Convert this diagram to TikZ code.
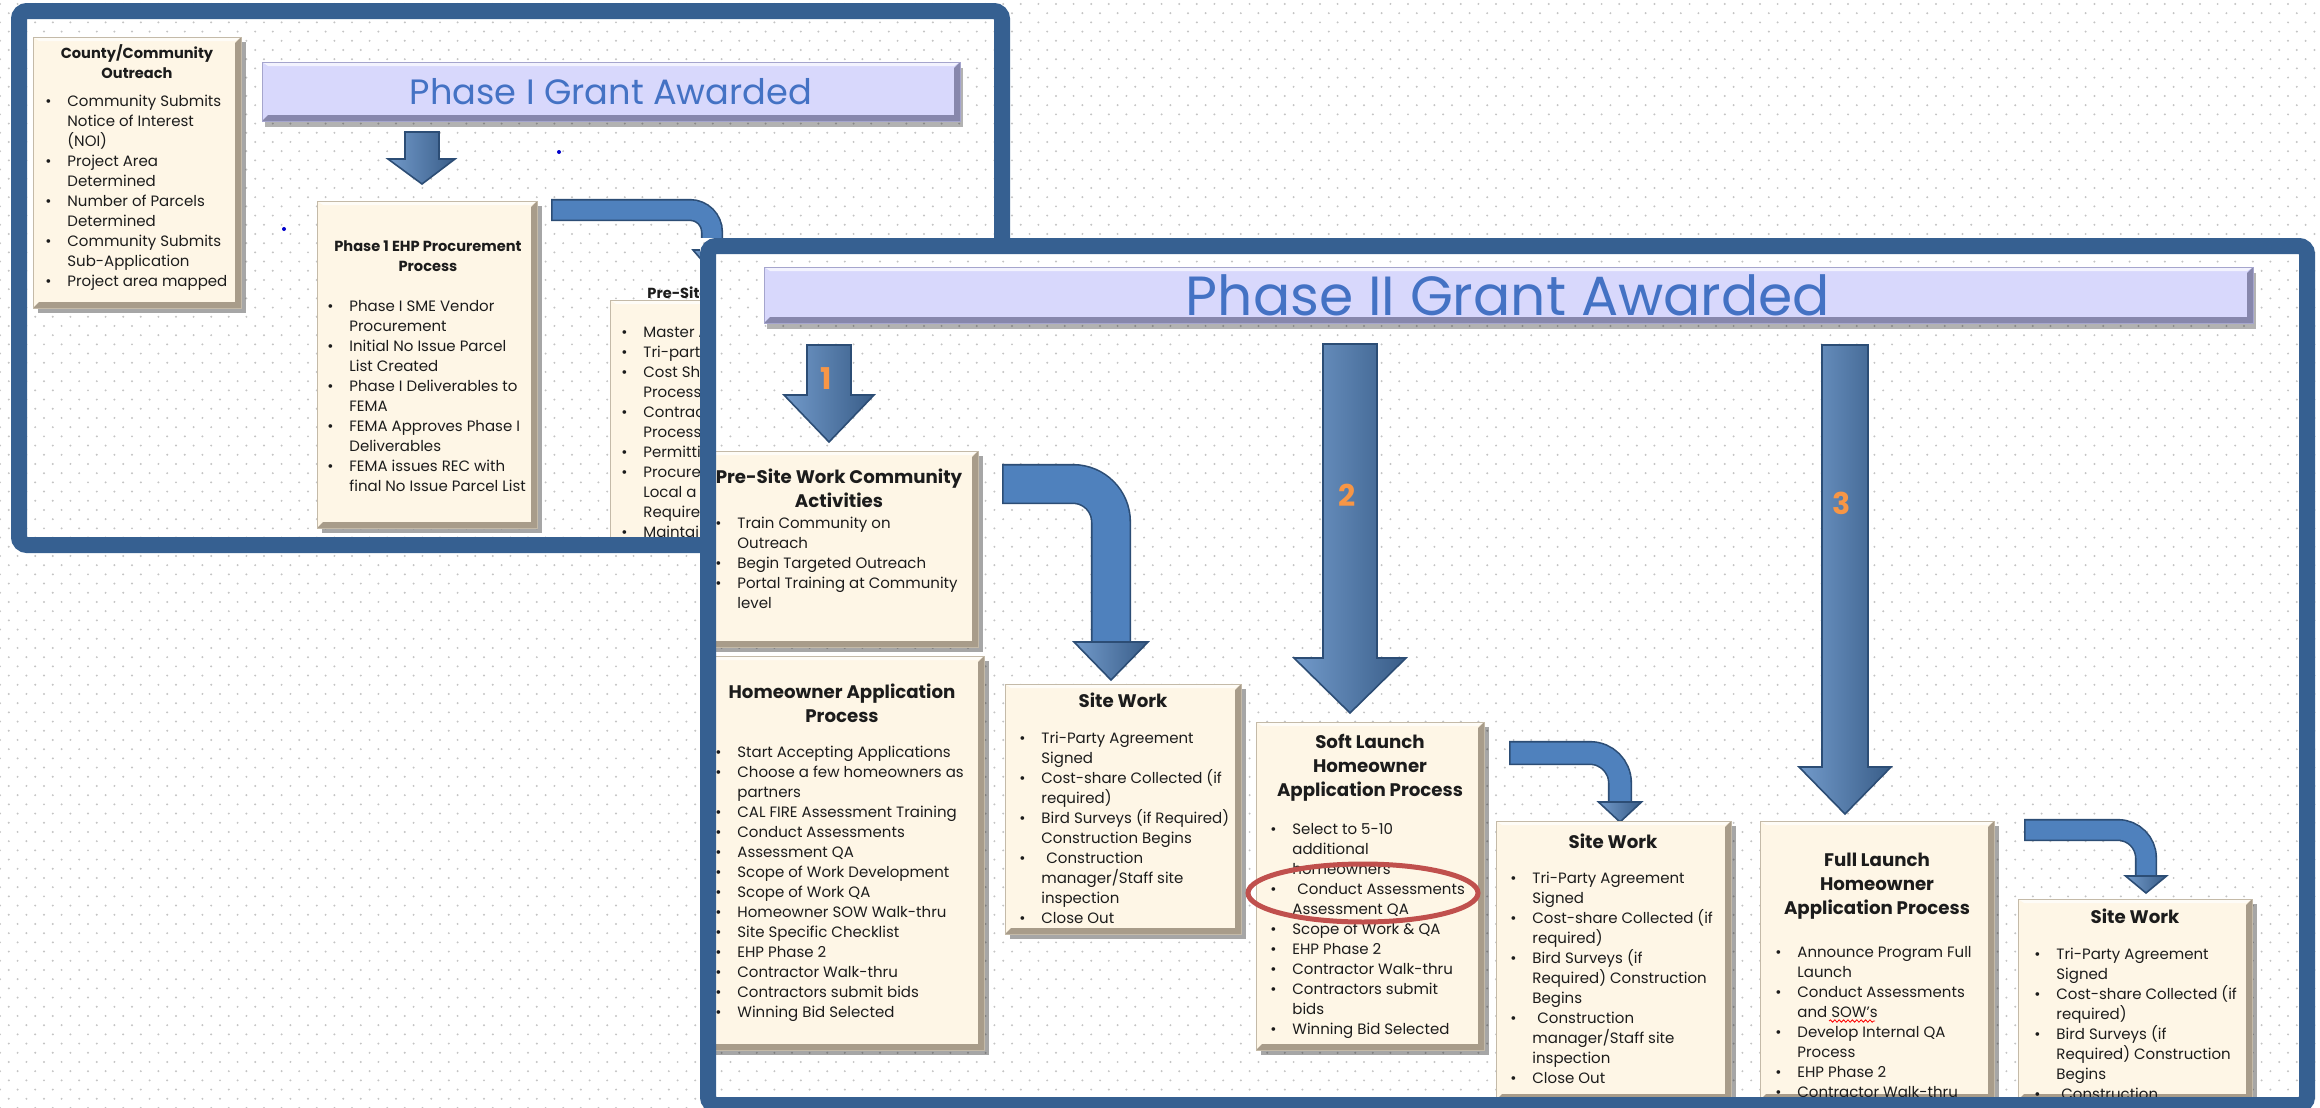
\documentclass[tikz,border=0pt]{standalone}
\usepackage{fontspec}
\setmainfont{Poppins}
\usetikzlibrary{shapes}
\usetikzlibrary{arrows}
\usetikzlibrary{fit,patterns,shadows,decorations.pathmorphing}

\definecolor{framblue}{RGB}{54,96,145}
\definecolor{cream}{RGB}{254,246,230}
\definecolor{boxline}{RGB}{196,186,168}
\definecolor{bevelc}{RGB}{168,156,138}
\definecolor{lavender}{RGB}{216,216,252}
\definecolor{lavline}{RGB}{165,165,205}
\definecolor{lavbevel}{RGB}{135,135,172}
\definecolor{bantext}{RGB}{68,114,196}
\definecolor{arrowblue}{RGB}{79,129,189}
\definecolor{arrowedge}{RGB}{44,77,117}
\definecolor{numorange}{RGB}{247,150,70}
\definecolor{ovalred}{RGB}{192,80,77}
\definecolor{dotgray}{RGB}{196,196,196}
\definecolor{inkc}{RGB}{28,28,28}

\newcommand{\listfont}{\fontsize{7.5}{10}\selectfont}
\newcommand{\titlefont}{\fontsize{9.1}{12.2}\selectfont\bfseries}
\newcommand{\smalltitlefont}{\fontsize{7.3}{10}\selectfont\bfseries}
\newcommand{\numfont}{\fontsize{15}{15}\selectfont\bfseries}
\newcommand{\bul}{\textbullet}
\newcommand{\itemtab}[1]{\begin{tabular}[t]{@{}p{11pt}@{}l@{}}#1\end{tabular}}
\newcommand{\titletab}[1]{\begin{tabular}[t]{@{}c@{}}#1\end{tabular}}

\pgfdeclarepatternformonly{slidedots}{\pgfqpoint{-0.7pt}{-0.7pt}}{\pgfqpoint{5.2pt}{5.4pt}}{\pgfqpoint{8.8pt}{9.2pt}}{%
  \pgfpathcircle{\pgfqpoint{0pt}{0pt}}{0.55pt}%
  \pgfpathcircle{\pgfqpoint{4.4pt}{4.6pt}}{0.55pt}%
  \pgfusepath{fill}}

\tikzset{bevel/.style={path picture={
  \fill[#1] (path picture bounding box.north east) -- (path picture bounding box.south east) -- (path picture bounding box.south west) -- ([shift={(3pt,3pt)}]path picture bounding box.south west) -- ([shift={(-3pt,3pt)}]path picture bounding box.south east) -- ([shift={(-3pt,-3pt)}]path picture bounding box.north east) -- cycle;
  \fill[white,opacity=.7] (path picture bounding box.north west) -- (path picture bounding box.north east) -- ([shift={(-3pt,-2pt)}]path picture bounding box.north east) -- ([shift={(3pt,-2pt)}]path picture bounding box.north west) -- cycle;}}}

\begin{document}
\begin{tikzpicture}[x=0.5pt,y=-0.5pt]
\tikzstyle{cbox}=[draw=boxline, fill=cream, inner sep=0pt, drop shadow={shadow xshift=2.5pt,shadow yshift=-2.5pt,opacity=.35,fill=black}, bevel=bevelc]
\tikzstyle{banner}=[draw=lavline, fill=lavender, inner sep=0pt, drop shadow={shadow xshift=1.5pt,shadow yshift=-3pt,opacity=.3,fill=black}, bevel=lavbevel]
\tikzstyle{bannertext}=[anchor=base, inner sep=0pt, text=bantext]
\tikzstyle{itemlist}=[anchor=base west, inner sep=0pt, font=\listfont, text=inkc]
\tikzstyle{boxtitle}=[anchor=base, inner sep=0pt, font=\titlefont, text=inkc]
\tikzstyle{smalltitle}=[boxtitle, font=\smalltitlefont]
\tikzstyle{blk}=[draw=arrowedge, line width=0.8pt, line join=miter, left color=arrowblue!80!white, middle color=arrowblue, right color=arrowblue!72!black]
\tikzstyle{steplabel}=[inner sep=0pt, font=\numfont, text=numorange]
\tikzstyle{slideframe}=[draw=framblue, line width=8pt, rounded corners=4pt]
\tikzstyle{ring}=[draw=ovalred, line width=2.5pt, ellipse, inner sep=0pt, minimum width=115pt, minimum height=29pt]
\tikzstyle{squiggle}=[red, line width=0.4pt, decorate, decoration={snake, amplitude=0.6pt, segment length=2.2pt}]

\useasboundingbox (0,0) rectangle (2320,1108);
\fill[white] (0,0) rectangle (2320,1108);
\fill[pattern=slidedots, pattern color=dotgray] (0,0) rectangle (2320,1108);

% phase I slide
\node[banner, fit={(262,62) (960,121)}] (ban1) {};
\node[bannertext, font=\fontsize{17.6}{20}\selectfont] (ban1T) at (611,104) {Phase I Grant Awarded};
\filldraw[blk] (405,132) -- (439,132) -- (439,159) -- (455,159) -- (422,184) -- (388,159) -- (405,159) -- cycle;

\node[cbox, fit={(33,37) (241,308)}] (outreach) {};
\node[smalltitle] (outreachT) at (137,58) {\titletab{County/Community\\Outreach}};
\node[itemlist] (outreachL) at (45,106) {\itemtab{
\bul & Community Submits\\
 & Notice of Interest\\
 & (NOI)\\
\bul & Project Area\\
 & Determined\\
\bul & Number of Parcels\\
 & Determined\\
\bul & Community Submits\\
 & Sub-Application\\
\bul & Project area mapped}};

\node[cbox, fit={(317,201) (537,528)}] (ehp) {};
\node[smalltitle] (ehpT) at (428,251) {\titletab{Phase 1 EHP Procurement\\Process}};
\node[itemlist] (ehpL) at (327,311) {\itemtab{
\bul & Phase I SME Vendor\\
 & Procurement\\
\bul & Initial No Issue Parcel\\
 & List Created\\
\bul & Phase I Deliverables to\\
 & FEMA\\
\bul & FEMA Approves Phase I\\
 & Deliverables\\
\bul & FEMA issues REC with\\
 & final No Issue Parcel List}};

\node[cbox, fit={(610,300) (760,545)}] (presite1) {};
\node[smalltitle, anchor=base west] (presite1T) at (647,298) {Pre-Site};
\node[itemlist] (presite1L) at (621,337) {\itemtab{
\bul & Master A\\
\bul & Tri-party\\
\bul & Cost Sh\\
 & Process\\
\bul & Contrac\\
 & Process\\
\bul & Permitti\\
\bul & Procure\\
 & Local a\\
 & Require\\
\bul & Maintai}};

\draw[arrowedge, line width=11.1pt, rounded corners=11pt] (551,210) -| (712,250);
\draw[arrowblue, line width=9.5pt, rounded corners=11pt, shorten <=0.8pt] (551,210) -| (712,250);
\filldraw[blk] (693,250) -- (731,250) -- (712,272) -- cycle;

\fill[blue!80!black] (559,152) circle (1pt) (284,229) circle (1pt);

\draw[slideframe] (19,11) rectangle (1002,545);

% phase II slide
\fill[white] (700,238) rectangle (2315,1113);
\fill[pattern=slidedots, pattern color=dotgray] (700,238) rectangle (2315,1113);

\node[banner, fit={(764,267) (2253,323)}] (ban2) {};
\node[bannertext, font=\fontsize{27.6}{30}\selectfont] (ban2T) at (1508,315) {Phase II Grant Awarded};

\foreach \cx/\tp/\hy/\ty/\w/\W/\n/\ly in {829/345/395/442/22/45/1/379, 1350/344/658/713/27/56/2/495, 1845/345/767/814/23/46/3/503}{
  \filldraw[blk] (\cx-\w,\tp) -- (\cx+\w,\tp) -- (\cx+\w,\hy) -- (\cx+\W,\hy) -- (\cx,\ty) -- (\cx-\W,\hy) -- (\cx-\w,\hy) -- cycle;
  \node[steplabel] (num\n) at (\cx-3,\ly) {\n};
}

\foreach \sx/\sy/\cx/\hy/\ty/\lw/\hw/\r in {1002/484/1111/642/680/18.5/37/19, 1509/753/1620/802/822/10.5/21.5/15, 2024/830/2146/876/893/9.5/20.5/14}{
  \draw[arrowedge, line width=\lw pt+1.6pt, rounded corners=\r pt] (\sx,\sy) -| (\cx,\hy);
  \draw[arrowblue, line width=\lw pt, rounded corners=\r pt, shorten <=0.8pt] (\sx,\sy) -| (\cx,\hy);
  \filldraw[blk] (\cx-\hw,\hy) -- (\cx+\hw,\hy) -- (\cx,\ty) -- cycle;
}

\node[cbox, fit={(700,451) (978,647)}] (presite2) {};
\node[boxtitle] (presite2T) at (839,483) {\titletab{Pre-Site Work Community\\Activities}};
\node[itemlist] (presite2L) at (715,528) {\itemtab{
\bul & Train Community on\\
 & Outreach\\
\bul & Begin Targeted Outreach\\
\bul & Portal Training at Community\\
 & level}};

\node[cbox, fit={(700,656) (984,1050)}] (homeowner) {};
\node[boxtitle] (homeownerT) at (842,698) {\titletab{Homeowner Application\\Process}};
\node[itemlist] (homeownerL) at (715,757) {\itemtab{
\bul & Start Accepting Applications\\
\bul & Choose a few homeowners as\\
 & partners\\
\bul & CAL FIRE Assessment Training\\
\bul & Conduct Assessments\\
\bul & Assessment QA\\
\bul & Scope of Work Development\\
\bul & Scope of Work QA\\
\bul & Homeowner SOW Walk-thru\\
\bul & Site Specific Checklist\\
\bul & EHP Phase 2\\
\bul & Contractor Walk-thru\\
\bul & Contractors submit bids\\
\bul & Winning Bid Selected}};

\node[cbox, fit={(1005,684) (1241,934)}] (site1) {};
\node[boxtitle] (site1T) at (1123,707) {\titletab{Site Work}};
\node[itemlist] (site1L) at (1019,743) {\itemtab{
\bul & Tri-Party Agreement\\
 & Signed\\
\bul & Cost-share Collected (if\\
 & required)\\
\bul & Bird Surveys (if Required)\\
 & Construction Begins\\
\bul & \hspace{2.5pt}Construction\\
 & manager/Staff site\\
 & inspection\\
\bul & Close Out}};

\node[cbox, fit={(1256,722) (1484,1050)}] (soft) {};
\node[boxtitle] (softT) at (1370,748) {\titletab{Soft Launch\\Homeowner\\Application Process}};
\node[itemlist] (softL) at (1270,834) {\itemtab{
\bul & Select to 5-10\\
 & additional\\
 & homeowners\\
\bul & \hspace{2.5pt}Conduct Assessments\\
 & Assessment QA\\
\bul & Scope of Work \& QA\\
\bul & EHP Phase 2\\
\bul & Contractor Walk-thru\\
\bul & Contractors submit\\
 & bids\\
\bul & Winning Bid Selected}};
\node[ring] (mark) at (1363,893) {};

\node[cbox, fit={(1496,821) (1731,1100)}] (site2) {};
\node[boxtitle] (site2T) at (1613,848) {\titletab{Site Work}};
\node[itemlist] (site2L) at (1510,883) {\itemtab{
\bul & Tri-Party Agreement\\
 & Signed\\
\bul & Cost-share Collected (if\\
 & required)\\
\bul & Bird Surveys (if\\
 & Required) Construction\\
 & Begins\\
\bul & \hspace{2.5pt}Construction\\
 & manager/Staff site\\
 & inspection\\
\bul & Close Out}};

\node[cbox, fit={(1760,821) (1994,1100)}] (full) {};
\node[boxtitle] (fullT) at (1877,866) {\titletab{Full Launch\\Homeowner\\Application Process}};
\node[itemlist] (fullL) at (1775,957) {\itemtab{
\bul & Announce Program Full\\
 & Launch\\
\bul & Conduct Assessments\\
 & and SOW’s\\
\bul & Develop Internal QA\\
 & Process\\
\bul & EHP Phase 2\\
\bul & Contractor Walk-thru}};
\draw[squiggle] (1829,1021) -- (1875,1021);

\node[cbox, fit={(2018,899) (2252,1100)}] (site3) {};
\node[boxtitle] (site3T) at (2135,923) {\titletab{Site Work}};
\node[itemlist] (site3L) at (2034,959) {\itemtab{
\bul & Tri-Party Agreement\\
 & Signed\\
\bul & Cost-share Collected (if\\
 & required)\\
\bul & Bird Surveys (if\\
 & Required) Construction\\
 & Begins\\
\bul & \hspace{2.5pt}Construction}};

\draw[slideframe] (708,246) rectangle (2307,1105);
\end{tikzpicture}
\end{document}
